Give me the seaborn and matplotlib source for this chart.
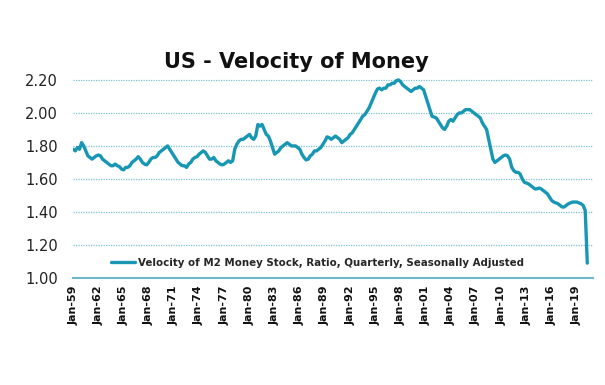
"""
US - Velocity of Money
- Quarterly velocity of M2 money stock, 1959 to 2020
- Single line chart with dotted horizontal gridlines
"""

import pandas as pd
import matplotlib
matplotlib.use("Agg")
import matplotlib.pyplot as plt
import matplotlib.dates as mdates
import seaborn as sns

# -----------------------------
# Step 1: Data (quarterly from Jan-59)
# -----------------------------
start_quarter = "1959-01-01"
velocity = [
    1.78, 1.77, 1.79, 1.78,     # 1959
    1.82, 1.80, 1.77, 1.74,     # 1960
    1.73, 1.72, 1.73, 1.74,     # 1961
    1.745, 1.74, 1.72, 1.71,    # 1962
    1.70, 1.69, 1.68, 1.68,     # 1963
    1.69, 1.68, 1.675, 1.66,    # 1964
    1.655, 1.67, 1.67, 1.68,    # 1965
    1.70, 1.71, 1.72, 1.735,    # 1966
    1.72, 1.70, 1.69, 1.685,    # 1967
    1.70, 1.72, 1.73, 1.73,     # 1968
    1.74, 1.76, 1.77, 1.78,     # 1969
    1.79, 1.80, 1.78, 1.76,     # 1970
    1.74, 1.72, 1.70, 1.69,     # 1971
    1.68, 1.68, 1.67, 1.69,     # 1972
    1.70, 1.72, 1.73, 1.735,    # 1973
    1.75, 1.76, 1.77, 1.76,     # 1974
    1.74, 1.72, 1.72, 1.73,     # 1975
    1.71, 1.70, 1.69, 1.685,    # 1976
    1.69, 1.70, 1.71, 1.70,     # 1977
    1.71, 1.78, 1.81, 1.83,     # 1978
    1.84, 1.84, 1.85, 1.86,     # 1979
    1.87, 1.85, 1.84, 1.86,     # 1980
    1.93, 1.92, 1.93, 1.90,     # 1981
    1.87, 1.86, 1.83, 1.79,     # 1982
    1.75, 1.76, 1.77, 1.79,     # 1983
    1.80, 1.81, 1.82, 1.81,     # 1984
    1.80, 1.80, 1.80, 1.79,     # 1985
    1.78, 1.75, 1.73, 1.715,    # 1986
    1.72, 1.74, 1.75, 1.77,     # 1987
    1.77, 1.78, 1.79, 1.81,     # 1988
    1.83, 1.855, 1.85, 1.84,    # 1989
    1.85, 1.86, 1.85, 1.84,     # 1990
    1.82, 1.83, 1.84, 1.85,     # 1991
    1.87, 1.88, 1.90, 1.92,     # 1992
    1.94, 1.96, 1.98, 1.99,     # 1993
    2.01, 2.03, 2.06, 2.09,     # 1994
    2.12, 2.145, 2.15, 2.14,    # 1995
    2.15, 2.15, 2.17, 2.17,     # 1996
    2.18, 2.18, 2.195, 2.20,    # 1997
    2.19, 2.17, 2.16, 2.15,     # 1998
    2.14, 2.13, 2.14, 2.15,     # 1999
    2.15, 2.16, 2.15, 2.14,     # 2000
    2.10, 2.06, 2.02, 1.98,     # 2001
    1.975, 1.97, 1.95, 1.93,    # 2002
    1.91, 1.90, 1.92, 1.95,     # 2003
    1.96, 1.95, 1.97, 1.99,     # 2004
    2.00, 2.00, 2.01, 2.02,     # 2005
    2.02, 2.02, 2.01, 2.00,     # 2006
    1.99, 1.98, 1.97, 1.94,     # 2007
    1.92, 1.90, 1.84, 1.78,     # 2008
    1.72, 1.70, 1.71, 1.72,     # 2009
    1.73, 1.74, 1.745, 1.74,    # 2010
    1.72, 1.67, 1.65, 1.64,     # 2011
    1.64, 1.63, 1.60, 1.58,     # 2012
    1.575, 1.57, 1.56, 1.55,    # 2013
    1.54, 1.54, 1.545, 1.54,    # 2014
    1.53, 1.52, 1.51, 1.49,     # 2015
    1.47, 1.46, 1.455, 1.45,    # 2016
    1.44, 1.43, 1.43, 1.44,     # 2017
    1.45, 1.455, 1.46, 1.46,    # 2018
    1.46, 1.455, 1.45, 1.44,    # 2019
    1.41, 1.09,                 # 2020
]
tick_years = list(range(1959, 2020, 3))
y_ticks = [1.00, 1.20, 1.40, 1.60, 1.80, 2.00, 2.20]
series_label = "Velocity of M2 Money Stock, Ratio, Quarterly, Seasonally Adjusted"
title = "US - Velocity of Money"

df = pd.DataFrame({
    "date": pd.date_range(start_quarter, periods=len(velocity), freq="QS"),
    "velocity": velocity,
})

# -----------------------------
# Step 2: Plot
# -----------------------------
sns.set_theme(style="white")
plt.rcParams["font.family"] = ["DejaVu Sans"]

line_color = "#1797b3"
grid_color = "#7cc3d2"

fig = plt.figure(figsize=(6.05, 3.85), dpi=100)
ax = fig.add_axes([0.121, 0.278, 0.859, 0.523])

sns.lineplot(data=df, x="date", y="velocity", ax=ax, color=line_color,
             linewidth=2.4, label=series_label)

ax.set_ylim(1.0, 2.22)
ax.set_xlim(pd.Timestamp("1959-01-01"), pd.Timestamp("2020-12-01"))
ax.set_yticks(y_ticks)
ax.set_yticklabels([f"{v:.2f}" for v in y_ticks], fontsize=10.5, color="#222222")
ax.set_xticks([pd.Timestamp(f"{y}-01-01") for y in tick_years])
ax.xaxis.set_major_formatter(mdates.DateFormatter("%b-%y"))
for lbl in ax.get_xticklabels():
    lbl.set_rotation(90)
    lbl.set_fontsize(8)
    lbl.set_fontweight("bold")
    lbl.set_color("#111111")

ax.set_xlabel("")
ax.set_ylabel("")
ax.yaxis.grid(True, linestyle=(0, (1, 1)), color=grid_color, linewidth=0.9)
ax.xaxis.grid(False)
ax.set_axisbelow(True)

for side in ["top", "right", "left"]:
    ax.spines[side].set_visible(False)
ax.spines["bottom"].set_color("#6fb8c8")
ax.spines["bottom"].set_linewidth(1.5)
ax.tick_params(axis="x", direction="inout", length=5, width=1, color="#6fb8c8", pad=3)
ax.tick_params(axis="y", length=0, pad=11)

ax.legend(loc="center", bbox_to_anchor=(0.47, 0.075), frameon=False,
          handlelength=2.3, handletextpad=0.3,
          prop={"size": 7.4, "weight": "bold"})

fig.text(0.49, 0.839, title, ha="center", va="center",
         fontsize=15, fontweight="bold", color="#111111")

plt.savefig("out.png", dpi=100)
plt.close()
